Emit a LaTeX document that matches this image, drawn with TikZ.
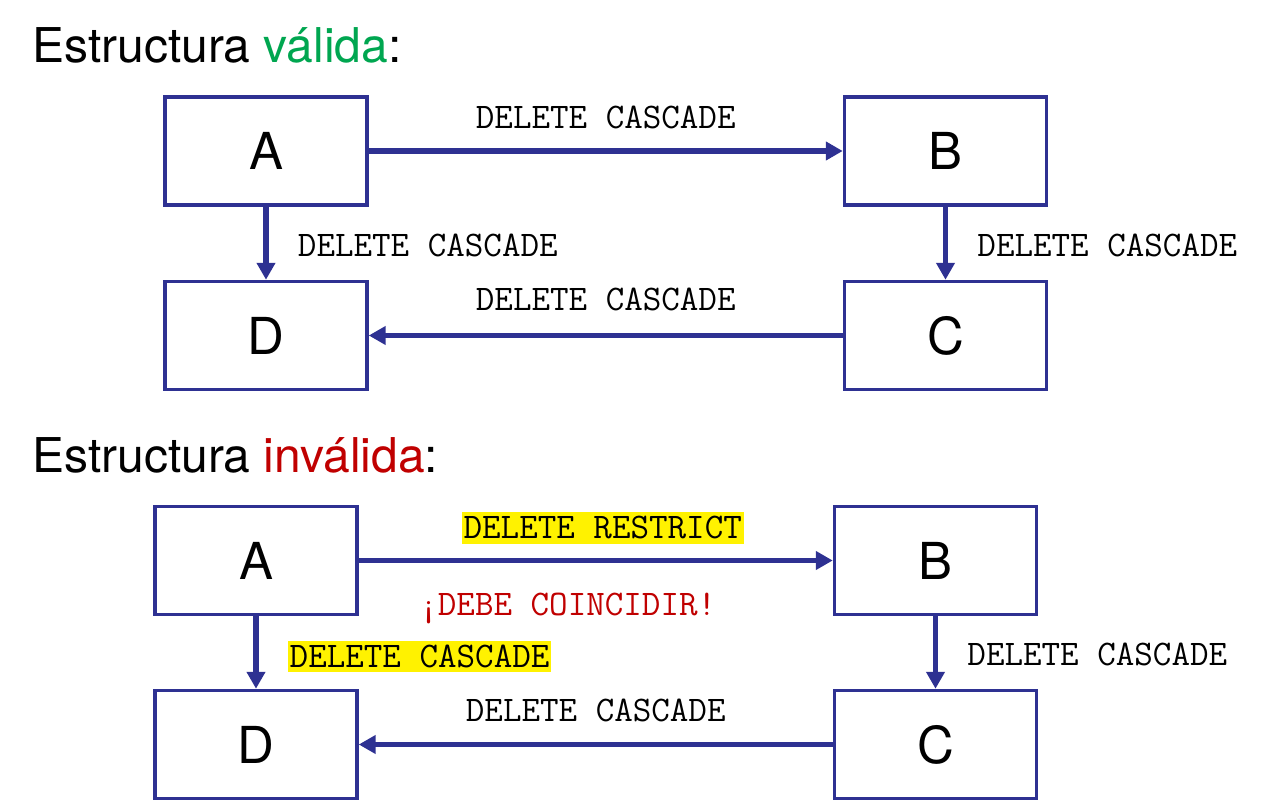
\documentclass[tikz,border=0pt]{standalone}
\usepackage{fontspec}
\setmainfont{TeX Gyre Heros}
\usetikzlibrary{arrows.meta,positioning}
\definecolor{boxblue}{RGB}{46,49,146}
\definecolor{okgreen}{RGB}{0,166,80}
\definecolor{badred}{RGB}{192,0,0}
\tikzset{
  tabla/.style={draw=boxblue,line width=2pt,minimum width=4.04cm,minimum height=2.16cm,inner sep=0pt,font=\fontsize{29}{29}\selectfont},
  flecha/.style={draw=boxblue,line width=3.4pt,-{Triangle[length=0.34cm,width=0.36cm]}},
  regla/.style={font=\ttfamily\fontsize{20.5}{20.5}\selectfont,inner sep=0pt,text height=0.44cm,text depth=0pt},
  marca/.style={regla,fill=yellow,inner xsep=1pt,inner ysep=0.1cm},
  titulo/.style={font=\fontsize{27.3}{27.3}\selectfont,anchor=base west,inner sep=0pt}
}
\begin{document}
\begin{tikzpicture}[x=0.02cm,y=-0.02cm]
\useasboundingbox (0,0) rectangle (1262,804);
% estructura valida
\node[titulo] (t1) at (32,63) {Estructura \textcolor{okgreen}{válida}:};
\node[tabla] (A) at (266,151) {A};
\node[tabla] (B) at (945.5,151) {B};
\node[tabla] (D) at (266,335.5) {D};
\node[tabla] (C) at (945.5,335.5) {C};
\draw[flecha] (A) -- (B) node[regla,midway,above=0.4cm] {DELETE CASCADE};
\draw[flecha] (A) -- (D) node[regla,midway,right=0.58cm,yshift=-0.04cm] {DELETE CASCADE};
\draw[flecha] (B) -- (C) node[regla,midway,right=0.58cm,yshift=-0.04cm] {DELETE CASCADE};
\draw[flecha] (C) -- (D) node[regla,midway,above=0.45cm] {DELETE CASCADE};
% estructura invalida
\node[titulo] (t2) at (32,472) {Estructura \textcolor{badred}{inválida}:};
\node[tabla] (A2) at (256,560.5) {A};
\node[tabla] (B2) at (935.5,560.5) {B};
\node[tabla] (D2) at (256,744.5) {D};
\node[tabla] (C2) at (935.5,744.5) {C};
\draw[flecha] (A2) -- (B2)
  node[marca,midway,above=0.28cm,xshift=0.14cm] {DELETE RESTRICT}
  node[regla,midway,below=0.6cm,xshift=-0.56cm,text=badred] {¡DEBE COINCIDIR!};
\draw[flecha] (A2) -- (D2) node[marca,midway,right=0.58cm,yshift=-0.08cm] {DELETE CASCADE};
\draw[flecha] (B2) -- (C2) node[regla,midway,right=0.58cm,yshift=-0.05cm] {DELETE CASCADE};
\draw[flecha] (C2) -- (D2) node[regla,midway,above=0.41cm] {DELETE CASCADE};
\end{tikzpicture}
\end{document}
